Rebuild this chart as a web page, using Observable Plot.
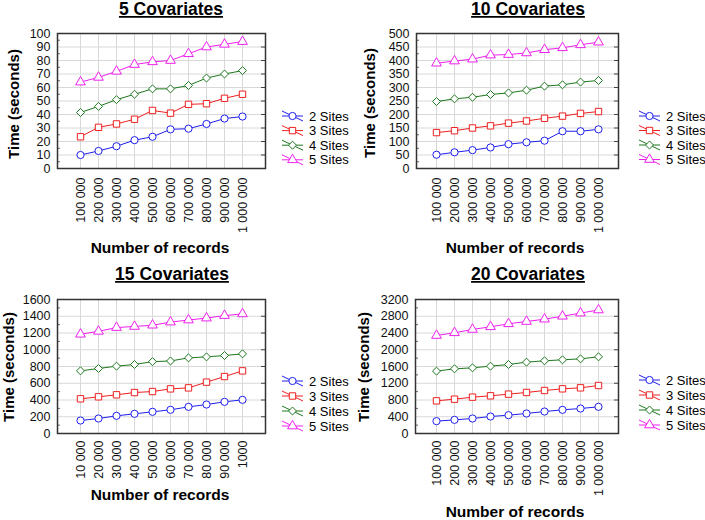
<!DOCTYPE html>
<html><head><meta charset="utf-8">
<script src="https://cdn.jsdelivr.net/npm/d3@7"></script>
<script src="https://cdn.jsdelivr.net/npm/@observablehq/plot@0.6"></script>
<style>
body{margin:0;background:#fff;}
#wrap{position:relative;width:705px;height:520px;overflow:hidden;font-family:"Liberation Sans",Arial,sans-serif;}
.panel{position:absolute;}
.panel svg{overflow:visible;}
.panel g[aria-label$="tick label"]{font-size:12.5px;fill:#111;}
</style></head><body><div id="wrap"></div>
<script>
// ---- data ----
const sites = ["2 Sites", "3 Sites", "4 Sites", "5 Sites"];
const siteColors = ["#2020ee", "#ee2020", "#1e781e", "#ee20ee"];
const siteSymbols = ["circle", "square", "diamond2", "triangle"];

const recordsA = ["100 000","200 000","300 000","400 000","500 000","600 000","700 000","800 000","900 000","1 000 000"];
const recordsB = ["10 000","20 000","30 000","40 000","50 000","60 000","70 000","80 000","90 000","1000"];

// 5 covariates
const t5_2 = [10, 13, 16.5, 21, 23.5, 29, 29.5, 33, 37, 38.5];
const t5_3 = [23.5, 30.5, 33, 36.5, 43, 41, 47.5, 48, 52, 55];
const t5_4 = [41.5, 46, 51, 55, 59, 59, 61.5, 67, 70, 72.5];
const t5_5 = [64, 67.5, 72, 77, 79, 80, 85, 90, 92, 94];
// 10 covariates
const t10_2 = [51, 60, 68, 78, 90, 97, 103, 138, 138, 145];
const t10_3 = [133, 140, 150, 158, 168, 176, 186, 194, 204, 211];
const t10_4 = [248, 258, 264, 274, 280, 290, 305, 310, 320, 326];
const t10_5 = [390, 398, 405, 420, 422, 428, 440, 447, 458, 468];
// 15 covariates
const t15_2 = [155, 179, 211, 235, 259, 283, 318, 346, 378, 402];
const t15_3 = [414, 438, 462, 489, 501, 533, 545, 613, 680, 748];
const t15_4 = [748, 776, 804, 824, 858, 866, 903, 915, 931, 951];
const t15_5 = [1185, 1220, 1265, 1278, 1293, 1330, 1355, 1378, 1408, 1428];
// 20 covariates
const t20_2 = [295, 326, 358, 406, 438, 478, 525, 565, 597, 637];
const t20_3 = [780, 820, 868, 900, 940, 980, 1027, 1067, 1091, 1146];
const t20_4 = [1490, 1545, 1568, 1608, 1648, 1704, 1736, 1760, 1783, 1831];
const t20_5 = [2340, 2405, 2485, 2548, 2620, 2675, 2730, 2800, 2875, 2950];

const ticks5 = d3.range(0, 101, 10);
const ticks10 = d3.range(0, 501, 50);
const ticks15 = d3.range(0, 1601, 200);
const ticks20 = d3.range(0, 3201, 400);

const titles = ["5 Covariates", "10 Covariates", "15 Covariates", "20 Covariates"];
const yLabel = "Time (seconds)";
const xLabel = "Number of records";

// ---- drawing ----
const wrap = document.getElementById("wrap");
const R = 3.6;

function panel(o) {
  const {records, series, yTicks} = o;
  const rows = sites.flatMap((s, i) => records.map((rec, j) => ({rec, site: s, t: series[i][j]})));
  const yMax = yTicks[yTicks.length - 1];
  const step = yTicks[1] - yTicks[0];
  const minor = yTicks.slice(0, -1).map(v => v + step / 2);
  const fw = o.width - o.mL - o.mR;
  const chart = Plot.plot({
    width: o.width, height: o.height,
    marginLeft: o.mL, marginRight: o.mR, marginTop: o.mT, marginBottom: o.mB,
    style: {fontFamily: "Liberation Sans, Arial, sans-serif", fontSize: "12px", background: "transparent", overflow: "visible", color: "#000"},
    x: {type: "point", domain: records, padding: 1},
    y: {domain: [0, yMax], nice: false},
    color: {domain: sites, range: siteColors},
    symbol: {domain: sites, range: siteSymbols},
    marks: [
      Plot.ruleY(yTicks, {stroke: "#d8d8d8", strokeWidth: 1}),
      Plot.ruleX(records, {x: d => d, stroke: "#d8d8d8", strokeWidth: 1}),
      Plot.tickY(yTicks, {y: d => d, insetLeft: fw - 4, stroke: "#444"}),
      Plot.tickY(minor, {y: d => d, insetRight: fw - 3, stroke: "#666"}),
      Plot.axisY({ticks: yTicks, tickSize: 0, tickPadding: 7, label: null, tickFormat: d => String(d)}),
      Plot.axisX({tickRotate: -90, tickSize: 0, tickPadding: o.xPad, label: null}),
      Plot.line(rows, {x: "rec", y: "t", stroke: "site", strokeWidth: 1}),
      Plot.dot(rows, {x: "rec", y: "t", stroke: "site", symbol: "site", fill: "white", r: R, strokeWidth: 1}),
      Plot.frame({stroke: "#333", strokeWidth: 1.5})
    ]
  });
  const svg = d3.select(chart);
  // title
  svg.append("text").attr("x", o.titleX).attr("y", o.titleY)
    .attr("text-anchor", "middle").attr("font-weight", "bold").attr("font-size", 17.5)
    .attr("text-decoration", "underline").attr("fill", "#000").text(o.title);
  // y label
  svg.append("text").attr("transform", `translate(${o.ylX},${o.ylY}) rotate(-90)`)
    .attr("text-anchor", "middle").attr("dy", "0.35em").attr("font-weight", "bold").attr("font-size", 15)
    .attr("fill", "#000").text(yLabel);
  // x label
  svg.append("text").attr("x", o.xlX).attr("y", o.xlY)
    .attr("text-anchor", "middle").attr("font-weight", "bold").attr("font-size", 15.5)
    .attr("fill", "#000").text(xLabel);
  // legend
  const lg = svg.append("g").attr("text-anchor", "start");
  sites.forEach((s, i) => {
    const y = o.legY + i * o.legDy;
    const g = lg.append("g").attr("transform", `translate(${o.legX},${y})`);
    g.append("line").attr("x1", 0).attr("x2", 21).attr("y1", 0).attr("y2", 0).attr("stroke", siteColors[i]);
    g.append("line").attr("x1", 0).attr("x2", 21).attr("y1", -5).attr("y2", 5).attr("stroke", siteColors[i]);
    const sym = {circle: d3.symbolCircle, square: d3.symbolSquare, diamond2: d3.symbolDiamond2, triangle: d3.symbolTriangle}[siteSymbols[i]];
    g.append("path").attr("transform", "translate(10.5,0)").attr("d", d3.symbol(sym, Math.PI * R * R)())
      .attr("fill", "white").attr("stroke", siteColors[i]);
    g.append("text").attr("x", 27).attr("y", 0).attr("dy", "0.35em").attr("font-size", 13)
      .attr("text-anchor", "start").attr("fill", "#000").text(s);
  });
  const div = document.createElement("div");
  div.className = "panel";
  div.style.left = o.left + "px";
  div.style.top = o.top + "px";
  div.appendChild(chart);
  wrap.appendChild(div);
}

panel({left: 0, top: 0, width: 360, height: 260, mL: 57, mR: 95, mT: 33, mB: 92, xPad: 9,
  records: recordsA, series: [t5_2, t5_3, t5_4, t5_5], yTicks: ticks5,
  title: titles[0], titleX: 171, titleY: 15, ylX: 14, ylY: 104, xlX: 160, xlY: 253,
  legX: 282, legY: 116, legDy: 14.6});
panel({left: 360, top: 0, width: 345, height: 260, mL: 56, mR: 87, mT: 33, mB: 92, xPad: 9,
  records: recordsA, series: [t10_2, t10_3, t10_4, t10_5], yTicks: ticks10,
  title: titles[1], titleX: 168, titleY: 15, ylX: 10, ylY: 103, xlX: 155, xlY: 253,
  legX: 279, legY: 116, legDy: 14.5});
panel({left: 0, top: 260, width: 360, height: 260, mL: 57, mR: 95, mT: 39, mB: 87, xPad: 7,
  records: recordsB, series: [t15_2, t15_3, t15_4, t15_5], yTicks: ticks15,
  title: titles[2], titleX: 172, titleY: 20, ylX: 9, ylY: 107, xlX: 160, xlY: 240,
  legX: 282, legY: 121, legDy: 15});
panel({left: 360, top: 260, width: 345, height: 260, mL: 55, mR: 87, mT: 39, mB: 87, xPad: 7,
  records: recordsA, series: [t20_2, t20_3, t20_4, t20_5], yTicks: ticks20,
  title: titles[3], titleX: 168, titleY: 20, ylX: 4, ylY: 107, xlX: 155, xlY: 257,
  legX: 279, legY: 120, legDy: 15});
</script></body></html>
